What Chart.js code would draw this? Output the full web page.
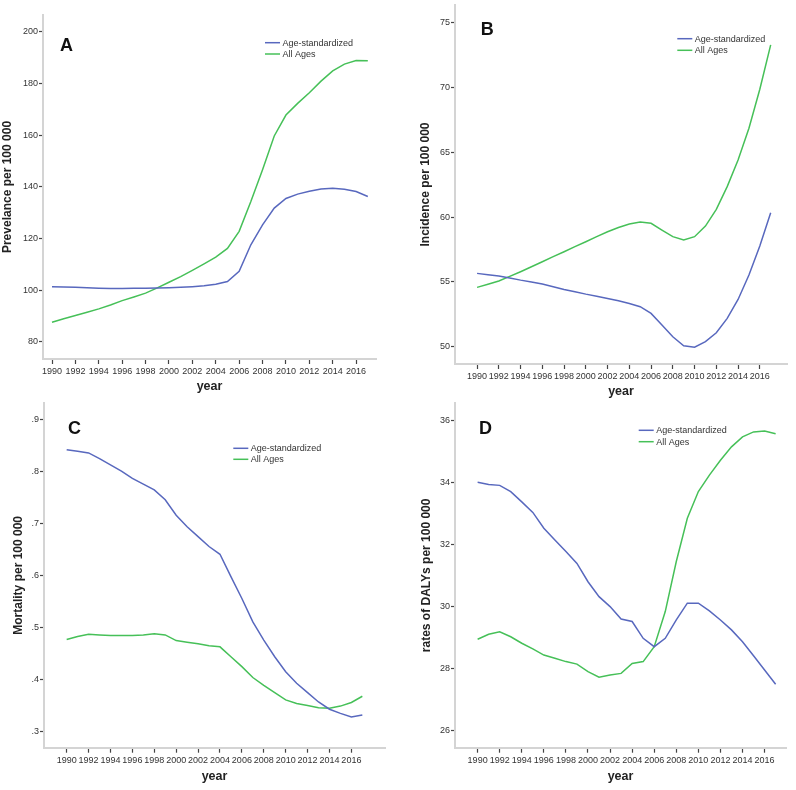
<!DOCTYPE html>
<html><head><meta charset="utf-8">
<script src="https://cdn.jsdelivr.net/npm/chart.js@4.4.0/dist/chart.umd.min.js"></script>
<style>
html,body{margin:0;padding:0;background:#fff;}
#wrap{position:relative;width:796px;height:790px;overflow:hidden;background:#fff;}
canvas{position:absolute;}
</style></head><body>
<div id="wrap">
<canvas id="cA" width="398" height="398" style="left:0px;top:0px"></canvas>
<canvas id="cB" width="398" height="398" style="left:398px;top:0px"></canvas>
<canvas id="cC" width="398" height="392" style="left:0px;top:398px"></canvas>
<canvas id="cD" width="398" height="392" style="left:398px;top:398px"></canvas>
</div>
<script>
const years = [1990,1991,1992,1993,1994,1995,1996,1997,1998,1999,2000,2001,2002,2003,2004,2005,2006,2007,2008,2009,2010,2011,2012,2013,2014,2015,2016,2017];
const xTickYears = [1990,1992,1994,1996,1998,2000,2002,2004,2006,2008,2010,2012,2014,2016];
const seriesNames = ['Age-standardized','All Ages'];

const prevAgeStd = [101.4,101.3,101.2,101.0,100.8,100.7,100.7,100.8,100.8,100.9,101.0,101.2,101.4,101.7,102.3,103.4,107.3,117.6,125.3,131.8,135.5,137.2,138.3,139.2,139.5,139.1,138.2,136.3];
const prevAllAges = [87.6,89.0,90.2,91.5,92.8,94.3,96.0,97.4,98.9,100.9,103.1,105.3,107.7,110.2,112.8,116.2,122.8,134.3,146.6,159.7,167.8,172.3,176.4,180.9,184.9,187.5,188.9,188.8];
const prevTicks = [80,100,120,140,160,180,200];
const prevTickLabels = ['80','100','120','140','160','180','200'];

const incAgeStd = [55.66,55.55,55.45,55.30,55.14,55.0,54.84,54.63,54.42,54.24,54.06,53.9,53.73,53.55,53.34,53.09,52.57,51.67,50.77,50.08,49.97,50.39,51.08,52.19,53.65,55.53,57.77,60.34];
const incAllAges = [54.58,54.82,55.07,55.43,55.79,56.17,56.56,56.95,57.33,57.72,58.10,58.49,58.87,59.2,59.47,59.62,59.52,59.0,58.49,58.23,58.49,59.31,60.60,62.35,64.40,66.85,69.86,73.28];
const incTicks = [50,55,60,65,70,75];
const incTickLabels = ['50','55','60','65','70','75'];

const mortAgeStd = [0.841,0.838,0.835,0.824,0.812,0.800,0.786,0.775,0.764,0.745,0.715,0.693,0.674,0.655,0.640,0.597,0.555,0.510,0.475,0.443,0.414,0.392,0.374,0.356,0.342,0.334,0.327,0.331];
const mortAllAges = [0.476,0.482,0.486,0.485,0.484,0.484,0.484,0.485,0.487,0.485,0.474,0.471,0.468,0.464,0.462,0.443,0.424,0.403,0.388,0.374,0.360,0.353,0.349,0.345,0.344,0.348,0.355,0.367];
const mortTicks = [0.3,0.4,0.5,0.6,0.7,0.8,0.9];
const mortTickLabels = ['.3','.4','.5','.6','.7','.8','.9'];

const dalyAgeStd = [34.0,33.93,33.90,33.70,33.37,33.03,32.52,32.14,31.77,31.39,30.80,30.32,30.0,29.60,29.52,28.98,28.71,28.98,29.57,30.11,30.11,29.86,29.57,29.25,28.87,28.42,27.96,27.50];
const dalyAllAges = [28.95,29.11,29.19,29.03,28.82,28.64,28.44,28.34,28.23,28.15,27.91,27.73,27.80,27.85,28.17,28.23,28.71,29.84,31.45,32.84,33.70,34.23,34.71,35.14,35.46,35.62,35.65,35.56];
const dalyTicks = [26,28,30,32,34,36];
const dalyTickLabels = ['26','28','30','32','34','36'];

const FAM = '"Liberation Sans", Arial, Helvetica, sans-serif';
const BLUE = 'rgb(88,104,190)';
const GREEN = 'rgb(70,192,88)';

const overlay = {
  id: 'overlay',
  afterDraw(chart, args, o) {
    const ctx = chart.ctx;
    ctx.save();
    ctx.font = 'bold 18px ' + FAM;
    ctx.fillStyle = '#111';
    ctx.textAlign = 'left';
    ctx.textBaseline = 'alphabetic';
    ctx.fillText(o.letter, o.letterX, o.letterY);
    ctx.font = '9px ' + FAM;
    chart.data.datasets.forEach((ds, i) => {
      const y = o.legY + i * o.legGap;
      ctx.strokeStyle = ds.borderColor;
      ctx.lineWidth = 1.5;
      ctx.beginPath();
      ctx.moveTo(o.legX, y);
      ctx.lineTo(o.legX + 15, y);
      ctx.stroke();
      ctx.fillStyle = '#333';
      ctx.textBaseline = 'middle';
      ctx.fillText(ds.label, o.legX + 17.5, y + 0.5);
    });
    ctx.restore();
  }
};

function makeChart(id, p) {
  const ds = (label, vals, color) => ({
    label, data: years.map((yr, i) => ({x: yr, y: vals[i]})),
    borderColor: color, backgroundColor: color, borderWidth: 1.5,
    pointRadius: 0, tension: 0, fill: false
  });
  return new Chart(document.getElementById(id), {
    type: 'line',
    data: { datasets: [ds(seriesNames[0], p.a, BLUE), ds(seriesNames[1], p.b, GREEN)] },
    plugins: [overlay],
    options: {
      responsive: false, animation: false, devicePixelRatio: 1,
      layout: { padding: { top: p.padTop, right: p.padRight, left: 0, bottom: 0 } },
      plugins: {
        legend: { display: false }, tooltip: { enabled: false },
        overlay: p.overlay
      },
      scales: {
        x: {
          type: 'linear', min: p.xMin, max: p.xMax,
          afterBuildTicks: s => { s.ticks = xTickYears.map(v => ({value: v})); },
          afterFit: s => { s.height = p.xH; s.paddingLeft = 0; s.paddingRight = 0; },
          ticks: { autoSkip: false, maxRotation: 0, padding: 2, color: '#333',
                   font: { size: 9, family: FAM }, callback: v => String(v) },
          grid: { display: true, drawOnChartArea: false, drawTicks: true, tickLength: 5,
                  tickColor: '#444', tickWidth: 1.2 },
          border: { display: true, color: '#d4d4d4', width: 2 },
          title: { display: true, text: 'year', color: '#222',
                   font: { size: 12.5, weight: 'bold', family: FAM, lineHeight: 1 },
                   padding: { top: 0, bottom: p.xTitlePad } }
        },
        y: {
          type: 'linear', min: p.yMin, max: p.yMax,
          afterBuildTicks: s => { s.ticks = p.ticks.map(v => ({value: v})); },
          afterFit: s => { s.width = p.yW; s.paddingTop = 0; s.paddingBottom = 0; },
          ticks: { autoSkip: false, padding: 1, color: '#333',
                   font: { size: 9, family: FAM }, callback: (v, i) => p.tickLabels[i] },
          grid: { display: true, drawOnChartArea: false, drawTicks: true, tickLength: 4,
                  tickColor: '#444', tickWidth: 1.2 },
          border: { display: true, color: '#d4d4d4', width: 2 },
          title: { display: true, text: p.yTitle, color: '#222',
                   font: { size: 12, weight: 'bold', family: FAM, lineHeight: 1 },
                   padding: { top: p.yTitlePad, bottom: 0 } }
        }
      }
    }
  });
}

makeChart('cA', {
  a: prevAgeStd, b: prevAllAges, ticks: prevTicks, tickLabels: prevTickLabels,
  xMin: 1989.23, xMax: 2017.7, yMin: 73.4, yMax: 206.5,
  padTop: 15, padRight: 22, yW: 43, xH: 39, xTitlePad: 5, yTitlePad: 2,
  yTitle: 'Prevelance per 100 000',
  overlay: { letter: 'A', letterX: 60, letterY: 51, legX: 265, legY: 42.7, legGap: 11.3 }
});
makeChart('cB', {
  a: incAgeStd, b: incAllAges, ticks: incTicks, tickLabels: incTickLabels,
  xMin: 1987.97, xMax: 2018.5, yMin: 48.67, yMax: 76.36,
  padTop: 5, padRight: 9, yW: 57, xH: 34, xTitlePad: 0, yTitlePad: 21.7,
  yTitle: 'Incidence per 100 000',
  overlay: { letter: 'B', letterX: 82.7, letterY: 35, legX: 279.3, legY: 38.7, legGap: 11.6 }
});
makeChart('cC', {
  a: mortAgeStd, b: mortAllAges, ticks: mortTicks, tickLabels: mortTickLabels,
  xMin: 1987.93, xMax: 2019.07, yMin: 0.268, yMax: 0.931,
  padTop: 5, padRight: 13, yW: 44, xH: 42.3, xTitlePad: 7, yTitlePad: 12.3,
  yTitle: 'Mortality per 100 000',
  overlay: { letter: 'C', letterX: 68, letterY: 36, legX: 233.3, legY: 50.3, legGap: 11 }
});
makeChart('cD', {
  a: dalyAgeStd, b: dalyAllAges, ticks: dalyTicks, tickLabels: dalyTickLabels,
  xMin: 1987.95, xMax: 2017.94, yMin: 25.46, yMax: 36.55,
  padTop: 5, padRight: 10, yW: 57, xH: 42.3, xTitlePad: 7, yTitlePad: 23,
  yTitle: 'rates of DALYs per 100 000',
  overlay: { letter: 'D', letterX: 81, letterY: 36, legX: 240.7, legY: 32.3, legGap: 11.4 }
});
</script>
</body></html>
